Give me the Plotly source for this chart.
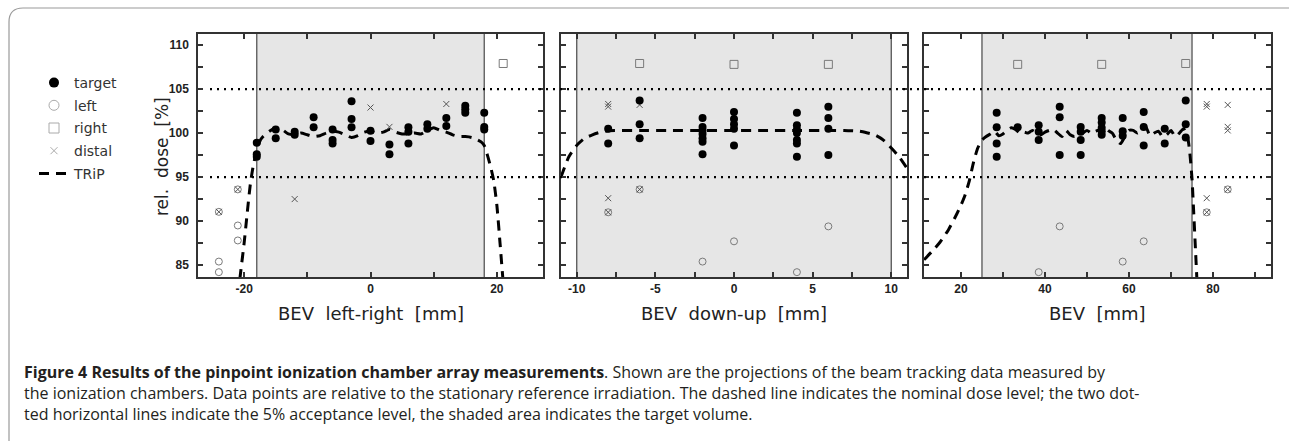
import plotly.graph_objects as go

W, H = 1289, 441

# ---------------- data ----------------
# Panel 1: BEV left-right [mm]
lr_target_x = [-18, -18, -18, -15, -15, -12, -12, -9, -9, -6, -6, -6, -3, -3, -3, 0, 0,
               3, 3, 6, 6, 6, 9, 9, 12, 12, 15, 15, 15, 18, 18, 18]
lr_target_y = [98.9, 97.6, 97.3, 100.4, 99.4, 100.15, 99.8, 101.8, 100.65, 100.4, 99.2, 98.8,
               103.6, 101.6, 100.65, 100.26, 99.1, 98.7, 97.6, 100.65, 100.15, 98.8, 101.0, 100.5,
               101.7, 100.8, 103.1, 102.7, 102.3, 102.3, 100.7, 100.4]
lr_left_x = [-24, -24, -24, -21, -21, -21]
lr_left_y = [85.4, 84.2, 91.05, 89.5, 87.8, 93.6]
lr_right_x = [21]
lr_right_y = [107.9]
lr_distal_x = [-24, -21, -12, 0, 3, 12]
lr_distal_y = [91.05, 93.6, 92.5, 102.9, 100.7, 103.3]
lr_trip_x = [-21.0, -20.5, -20.0, -19.5, -19.0, -18.5, -18.0, -17.5, -17.0, -16.0, -15.0, -14.0,
             -13.0, -12.0, -11.0, -10.0, -9.0, -8.0, -7.0, -6.0, -5.0, -4.0, -3.0, -2.0, -1.0,
             0.0, 1.0, 2.0, 3.0, 4.0, 5.0, 6.0, 7.0, 8.0, 9.0, 10.0, 11.0, 12.0, 13.0, 14.0,
             15.0, 16.0, 17.0, 17.5, 18.0, 18.5, 19.0, 19.5, 20.0, 20.5, 21.0]
lr_trip_y = [81.5, 84.5, 87.5, 91.0, 94.3, 96.5, 98.0, 99.1, 99.6, 100.2, 100.6, 100.4,
             99.9, 99.8, 100.0, 99.8, 99.6, 99.7, 100.0, 100.2, 100.1, 99.8, 99.5, 99.7, 100.1,
             100.2, 100.0, 100.1, 100.4, 100.1, 99.9, 99.9, 100.0, 99.9, 100.3, 100.6, 100.3,
             100.1, 99.8, 99.6, 99.6, 99.5, 99.2, 99.0, 98.6, 97.5, 96.2, 94.6, 91.8, 87.5, 83.0]

# Panel 2: BEV down-up [mm]
du_target_x = [-8, -8, -6, -6, -6, -2, -2, -2, -2, -2, -2, -2, 0, 0, 0, 0, 0,
               4, 4, 4, 4, 4, 4, 4, 6, 6, 6, 6]
du_target_y = [100.5, 98.8, 103.7, 101.0, 99.4, 101.7, 100.7, 100.3, 99.9, 99.4, 99.0, 97.6,
               102.4, 101.6, 101.0, 100.5, 98.6, 102.3, 100.9, 100.4, 100.0, 99.2, 98.8, 97.3,
               103.0, 101.7, 100.5, 97.5]
du_left_x = [-8, -6, -2, 0, 4, 6]
du_left_y = [91.0, 93.6, 85.4, 87.7, 84.2, 89.4]
du_right_x = [-6, 0, 6]
du_right_y = [107.9, 107.8, 107.8]
du_distal_x = [-8, -8, -8, -8, -6, -6]
du_distal_y = [103.3, 103.0, 92.6, 91.0, 103.2, 93.6]
du_trip_x = [-11.0, -10.5, -10.0, -9.5, -9.0, -8.5, -8.0, -6.0, -4.0, -2.0, 0.0, 2.0, 4.0,
             6.0, 7.0, 8.0, 8.5, 9.0, 9.5, 10.0, 10.5, 11.0]
du_trip_y = [95.0, 97.3, 98.6, 99.4, 99.8, 100.1, 100.25, 100.3, 100.3, 100.3, 100.3, 100.3,
             100.3, 100.3, 100.3, 100.2, 100.0, 99.75, 99.2, 98.3, 97.3, 96.0]

# Panel 3: BEV [mm]
bev_target_x = [28.5, 28.5, 28.5, 28.5, 33.5, 38.5, 38.5, 38.5, 43.5, 43.5, 43.5,
                48.5, 48.5, 48.5, 48.5, 53.5, 53.5, 53.5, 53.5, 53.5, 58.5, 58.5, 58.5,
                63.5, 63.5, 63.5, 68.5, 68.5, 73.5, 73.5, 73.5]
bev_target_y = [102.3, 100.65, 98.8, 97.3, 100.65, 100.9, 100.15, 99.2, 103.0, 101.8, 97.5,
                100.7, 100.15, 99.2, 97.5, 101.7, 101.2, 100.6, 100.2, 99.8, 101.7, 100.2, 99.7,
                102.4, 100.7, 98.6, 100.5, 98.8, 103.7, 101.0, 99.5]
bev_left_x = [38.5, 43.5, 58.5, 63.5, 78.5, 83.5]
bev_left_y = [84.2, 89.4, 85.4, 87.7, 91.0, 93.6]
bev_right_x = [33.5, 53.5, 73.5]
bev_right_y = [107.8, 107.8, 107.9]
bev_distal_x = [78.5, 78.5, 78.5, 78.5, 83.5, 83.5, 83.5, 83.5]
bev_distal_y = [103.3, 103.0, 92.6, 91.0, 103.2, 100.7, 100.3, 93.6]
bev_trip_x = [11.2, 13, 15, 17, 19, 20, 21, 22, 23, 24, 25, 26, 27, 28, 29, 30, 31, 32, 33, 34,
              35, 36, 37, 38, 39, 40, 41, 42, 43, 44, 45, 46, 47, 48, 49, 50, 51, 52, 53, 54,
              55, 56, 57, 58, 59, 60, 61, 62, 63, 64, 65, 66, 67, 68, 69, 70, 71, 72, 73, 74,
              74.5, 75, 75.4, 75.8, 76.2]
bev_trip_y = [85.6, 86.5, 87.6, 89.0, 90.8, 91.8, 93.0, 94.6, 96.7, 98.3, 99.2, 99.6, 99.9, 100.2,
              99.7, 99.9, 100.3, 100.6, 100.4, 100.0, 100.1, 100.0, 100.3, 100.0, 99.8, 100.1,
              100.3, 100.4, 100.0, 99.6, 100.3, 99.8, 99.6, 99.8, 100.0, 100.3, 100.0, 100.2,
              100.4, 100.9, 100.3, 100.0, 99.2, 98.8, 99.6, 100.3, 100.3, 100.0, 100.4, 100.7,
              99.7, 100.0, 100.2, 99.6, 99.8, 100.3, 99.6, 100.0, 100.5, 99.4, 97.6, 94.8, 91.0,
              87.0, 83.0]

# target volume (shaded) per panel, axis ranges, ticks
target_lo = [-18, -10, 25]
target_hi = [18, 10, 75]
x_ranges = [[-27.3, 27.3], [-11, 11], [11.2, 93.8]]
x_tickvals = [[-20, -10, 0, 10, 20],
              [-10, -7.5, -5, -2.5, 0, 2.5, 5, 7.5, 10],
              [20, 30, 40, 50, 60, 70, 80, 90]]
x_ticktext = [["-20", "", "0", "", "20"],
              ["-10", "", "-5", "", "0", "", "5", "", "10"],
              ["20", "", "40", "", "60", "", "80", ""]]
x_titles = ["BEV\u00a0\u00a0left-right\u00a0\u00a0[mm]", "BEV\u00a0\u00a0down-up\u00a0\u00a0[mm]",
            "BEV\u00a0\u00a0[mm]"]
y_range = [83.65, 111.25]
y_tickvals = [85, 87.5, 90, 92.5, 95, 97.5, 100, 102.5, 105, 107.5, 110]
y_ticktext = ["85", "", "90", "", "95", "", "100", "", "105", "", "110"]
acceptance = [95, 105]

series_names = ["target", "left", "right", "distal", "TRiP"]

panels = [
    (lr_target_x, lr_target_y, lr_left_x, lr_left_y, lr_right_x, lr_right_y,
     lr_distal_x, lr_distal_y, lr_trip_x, lr_trip_y),
    (du_target_x, du_target_y, du_left_x, du_left_y, du_right_x, du_right_y,
     du_distal_x, du_distal_y, du_trip_x, du_trip_y),
    (bev_target_x, bev_target_y, bev_left_x, bev_left_y, bev_right_x, bev_right_y,
     bev_distal_x, bev_distal_y, bev_trip_x, bev_trip_y),
]

# ---------------- layout geometry (pixels) ----------------
x_dom_px = [(198, 543), (561, 907), (924, 1271)]
y_dom_px = (34, 277)


def px(x):
    return x / W


def py(y):
    return 1 - y / H


GRAY = "#7a7a7a"
XCOL = "#555555"
TRIP_LINE = dict(color="black", width=3, dash="10px,7px")
styles = {
    "target": dict(mode="markers", marker=dict(symbol="circle", size=8, color="black")),
    "left": dict(mode="markers", marker=dict(symbol="circle-open", size=7, color=GRAY,
                                             line=dict(width=1, color=GRAY))),
    "right": dict(mode="markers", marker=dict(symbol="square-open", size=8, color=GRAY,
                                              line=dict(width=1, color=GRAY))),
    "distal": dict(mode="markers", marker=dict(symbol="x-thin-open", size=6, color=XCOL,
                                               line=dict(width=1, color=XCOL))),
}
legend_styles = {
    "target": dict(mode="markers", marker=dict(symbol="circle", size=10, color="black")),
    "left": dict(mode="markers", marker=dict(symbol="circle-open", size=10, color="#aaaaaa",
                                             line=dict(width=1, color="#aaaaaa"))),
    "right": dict(mode="markers", marker=dict(symbol="square-open", size=10, color="#aaaaaa",
                                              line=dict(width=1, color="#aaaaaa"))),
    "distal": dict(mode="markers", marker=dict(symbol="x-thin-open", size=7, color="#aaaaaa",
                                               line=dict(width=1, color="#aaaaaa"))),
    "TRiP": dict(mode="lines", line=TRIP_LINE),
}

fig = go.Figure()

for i, (tx, ty, lx, ly, rx, ry, dx, dy, trx, tr_y) in enumerate(panels):
    xa = "x" if i == 0 else f"x{i+1}"
    ya = "y" if i == 0 else f"y{i+1}"
    fig.add_trace(go.Scatter(x=trx, y=tr_y, mode="lines", name="TRiP", showlegend=False,
                             xaxis=xa, yaxis=ya,
                             line=dict(TRIP_LINE, shape="spline", smoothing=0.6),
                             hoverinfo="skip"))
    for name, xs, ys in (("left", lx, ly), ("right", rx, ry), ("distal", dx, dy),
                         ("target", tx, ty)):
        fig.add_trace(go.Scatter(x=xs, y=ys, name=name, showlegend=False, xaxis=xa, yaxis=ya,
                                 **styles[name]))

    axis_common = dict(showline=True, mirror="allticks", linecolor="#333333", linewidth=1.5,
                       ticks="inside", ticklen=5, tickwidth=1.5, tickcolor="#333333",
                       showgrid=False, zeroline=False,
                       tickfont=dict(family="Liberation Sans, Arial, sans-serif", size=12,
                                     color="#222222", weight="bold"))
    xkey = "xaxis" if i == 0 else f"xaxis{i+1}"
    ykey = "yaxis" if i == 0 else f"yaxis{i+1}"
    fig.layout[xkey] = dict(domain=[px(x_dom_px[i][0]), px(x_dom_px[i][1])], range=x_ranges[i],
                            anchor=ya, tickmode="array", tickvals=x_tickvals[i],
                            ticktext=x_ticktext[i], ticklabelstandoff=0, **axis_common)
    fig.layout[ykey] = dict(domain=[py(y_dom_px[1]), py(y_dom_px[0])], range=y_range,
                            anchor=xa, tickmode="array", tickvals=y_tickvals,
                            ticktext=y_ticktext, showticklabels=(i == 0),
                            ticklabelstandoff=5, **axis_common)

    # shaded target volume
    fig.add_shape(type="rect", xref=xa, yref=f"{ya} domain", x0=target_lo[i], x1=target_hi[i],
                  y0=0, y1=1, fillcolor="#e6e6e6", line=dict(width=0), layer="below")
    for xv in (target_lo[i], target_hi[i]):
        fig.add_shape(type="line", xref=xa, yref=f"{ya} domain", x0=xv, x1=xv, y0=0, y1=1,
                      line=dict(color="#555555", width=1.3), layer="below")
    # x-axis title
    fig.add_annotation(text=x_titles[i], xref=f"{xa} domain", x=0.5, yref="paper",
                       y=py(313), showarrow=False, xanchor="center", yanchor="middle",
                       font=dict(family="DejaVu Sans", size=18, color="#222222"))

# legend entries (one per series)
for k, name in enumerate(series_names):
    fig.add_trace(go.Scatter(x=[None], y=[None], name=name, legendgroup=name, legendrank=k + 1,
                             showlegend=True, **legend_styles[name]))

# dotted acceptance lines across all panels
for a in acceptance:
    fig.add_shape(type="line", xref="paper", yref="y", x0=px(210), x1=px(1267), y0=a, y1=a,
                  line=dict(color="black", width=2.2, dash="2px,5px"))

# y-axis title
fig.add_annotation(text="rel.\u00a0\u00a0dose\u00a0\u00a0[%]", xref="paper", yref="paper",
                   x=px(162), y=py(157), textangle=-90, showarrow=False,
                   xanchor="center", yanchor="middle",
                   font=dict(family="DejaVu Sans", size=17, color="#222222"))

# caption
cap_font = dict(family="Open Sans", size=16, color="#231f20")
caption = [
    "<b>Figure 4 Results of the pinpoint ionization chamber array measurements</b>. Shown are "
    "the projections of the beam tracking data measured by",
    "the ionization chambers. Data points are relative to the stationary reference irradiation. "
    "The dashed line indicates the nominal dose level; the two dot-",
    "ted horizontal lines indicate the 5% acceptance level, the shaded area indicates the "
    "target volume.",
]
for k, line in enumerate(caption):
    fig.add_annotation(text=line, xref="paper", yref="paper", x=px(22), y=py(371.5 + 21.3 * k),
                       xanchor="left", yanchor="middle", showarrow=False, font=cap_font)

# outer frame (left + top with rounded corner)
path = (f"M {px(9)} {py(441)} L {px(9)} {py(22)} Q {px(9)} {py(8)} {px(23)} {py(8)} "
        f"L {px(1289)} {py(8)}")
fig.add_shape(type="path", xref="paper", yref="paper", path=path,
              line=dict(color="#9a9a9a", width=1.2))

fig.update_layout(
    width=W, height=H, margin=dict(l=0, r=0, t=0, b=0),
    paper_bgcolor="white", plot_bgcolor="white",
    showlegend=True,
    legend=dict(x=px(34), y=py(67), xanchor="left", yanchor="top", tracegroupgap=1.5,
                bgcolor="rgba(0,0,0,0)", traceorder="grouped",
                font=dict(family="DejaVu Sans", size=14, color="#333333")),
)

fig.write_html("out.html", config={"displayModeBar": False},
               post_script="document.body.style.margin='0px';"
               "document.body.style.overflow='hidden';")
